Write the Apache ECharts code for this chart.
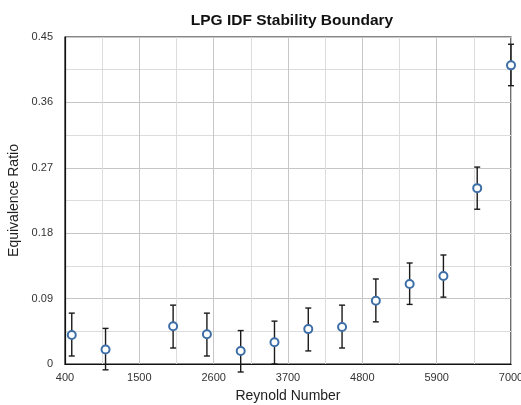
<!DOCTYPE html>
<html><head><meta charset="utf-8">
<script src="https://cdn.jsdelivr.net/npm/echarts@6/dist/echarts.min.js"></script>
<style>html,body{margin:0;padding:0;background:#fff}#c{width:521px;height:405px}</style>
</head><body><div id="c"></div>
<script>
const reynolds = [500, 1000, 2000, 2500, 3000, 3500, 4000, 4500, 5000, 5500, 6000, 6500, 7000];
const ratio    = [0.040, 0.020, 0.052, 0.041, 0.018, 0.030, 0.048, 0.051, 0.087, 0.110, 0.121, 0.242, 0.411];
const errLow   = [0.011, -0.008, 0.022, 0.011, -0.011, 0.000, 0.018, 0.022, 0.058, 0.082, 0.092, 0.213, 0.383];
const errHigh  = [0.070, 0.049, 0.081, 0.070, 0.046, 0.059, 0.077, 0.081, 0.117, 0.139, 0.150, 0.271, 0.440];
const xStart = 400, xEnd = 7000, xStep = 1100;
const yTicks = [0, 0.09, 0.18, 0.27, 0.36, 0.45];

const font = '"Liberation Sans", Arial, sans-serif';
const scatterData = reynolds.map((x, i) => [x - xStart, ratio[i]]);
const errData = reynolds.map((x, i) => [x - xStart, errLow[i], errHigh[i]]);

const chart = echarts.init(document.getElementById('c'), null, {renderer: 'canvas'});
chart.setOption({
  animation: false,
  backgroundColor: '#fff',
  title: {
    text: 'LPG IDF Stability Boundary', left: 287, top: 8, textAlign: 'center',
    textStyle: {fontFamily: font, fontSize: 15.5, fontWeight: 'bold', color: '#111'}
  },
  grid: {left: 65, right: 10, top: 37, bottom: 41, show: true, borderColor: '#111', borderWidth: 1.2,
    containLabel: false, outerBoundsMode: 'none'},
  xAxis: {
    type: 'value', min: 0, max: xEnd - xStart, interval: xStep,
    name: 'Reynold Number', nameLocation: 'middle', nameGap: 25,
    nameTextStyle: {fontFamily: font, fontSize: 14, color: '#222'},
    axisLine: {show: true, lineStyle: {color: '#111', width: 1.2}},
    axisTick: {show: false},
    axisLabel: {fontFamily: font, fontSize: 11, color: '#333', margin: 8,
      formatter: v => String(v + xStart)},
    splitLine: {show: true, lineStyle: {color: '#c6c6c6', width: 1}},
    minorTick: {show: false, splitNumber: 2},
    minorSplitLine: {show: true, lineStyle: {color: '#dcdcdc', width: 1}}
  },
  yAxis: {
    type: 'value', min: yTicks[0], max: yTicks[yTicks.length - 1], interval: 0.09,
    name: 'Equivalence Ratio', nameLocation: 'middle', nameGap: 43, nameRotate: 90,
    nameTextStyle: {fontFamily: font, fontSize: 14, color: '#222'},
    axisLine: {show: true, lineStyle: {color: '#111', width: 1.2}},
    axisTick: {show: false},
    axisLabel: {fontFamily: font, fontSize: 11, color: '#333', margin: 12,
      formatter: v => v === 0 ? '0' : v.toFixed(2)},
    splitLine: {show: true, lineStyle: {color: '#c6c6c6', width: 1}},
    minorTick: {show: false, splitNumber: 2},
    minorSplitLine: {show: true, lineStyle: {color: '#dcdcdc', width: 1}}
  },
  series: [
    {
      type: 'custom', clip: false, z: 2,
      data: errData,
      renderItem: function (params, api) {
        const x = api.value(0);
        const lo = api.coord([x, api.value(1)]);
        const hi = api.coord([x, api.value(2)]);
        const w = 3;
        const st = {stroke: '#1a1a1a', lineWidth: 1.4};
        return {type: 'group', children: [
          {type: 'line', shape: {x1: lo[0], y1: lo[1], x2: hi[0], y2: hi[1]}, style: st},
          {type: 'line', shape: {x1: hi[0] - w, y1: hi[1], x2: hi[0] + w, y2: hi[1]}, style: st},
          {type: 'line', shape: {x1: lo[0] - w, y1: lo[1], x2: lo[0] + w, y2: lo[1]}, style: st}
        ]};
      }
    },
    {
      type: 'scatter', clip: false, z: 3,
      data: scatterData, symbol: 'circle', symbolSize: 8,
      itemStyle: {color: '#fff', borderColor: '#3d6ea6', borderWidth: 2, opacity: 1}
    }
  ]
});
</script></body></html>
